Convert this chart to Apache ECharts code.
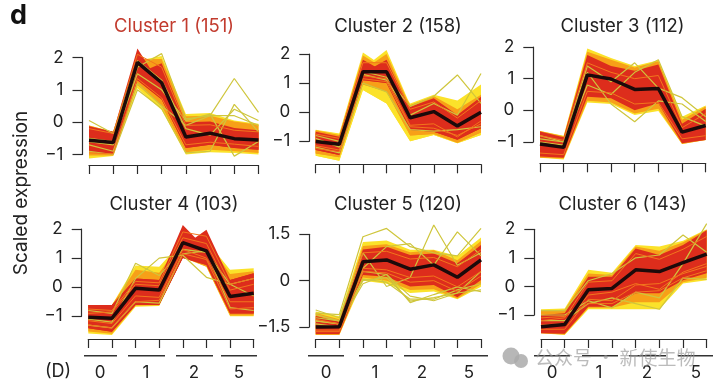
<!DOCTYPE html>
<html>
<head>
<meta charset="utf-8">
<style>
  html,body{margin:0;padding:0;background:#fff}
  #main{width:721px;height:388px}
</style>
<script src="https://cdn.jsdelivr.net/npm/echarts@6/dist/echarts.min.js"></script>
</head>
<body>
<div id="main"></div>
<script>
// sample columns, values
var samples=['0a','0b','1a','1b','2a','2b','5a','5b'];
var dayLabels=['0','1','2','5'];
var clusterNames=['Cluster 1 (151)','Cluster 2 (158)','Cluster 3 (112)','Cluster 4 (103)','Cluster 5 (120)','Cluster 6 (143)'];

var c1Mean=[-.56,-.63,1.85,1.22,-.46,-.34,-.51,-.55];
var c1RedA=[[-.13,-.3,2.28,1.1,0,.02,-.18,-.25],[-.9,-1,1.3,.7,-.8,-.7,-.8,-.85]];
var c1RedB=[[-.3,-.45,1.5,1.82,-.05,-.02,-.2,-.3],[-.9,-1,1.3,.7,-.8,-.7,-.8,-.85]];
var c1Orange=[[-.1,-.3,1.95,1.95,.18,.2,.02,-.08],[-1.03,-1.03,1.15,.5,-.93,-.85,-.9,-.95]];
var c1Yellow=[[-.1,-.3,1.9,2.05,.25,.28,.05,-.05],[-1.12,-1.05,1.05,.38,-1,-.93,-.95,-1]];
var c1Stray=[[.05,-.35,1.9,1.3,-.2,-.4,.4,.05],[-.7,-.9,1.2,.5,-.1,.2,1.35,.3],[-.9,-1,1,.42,-.95,-.9,.55,-.3],[-.5,-.6,1.5,1,.05,.25,-1.05,-.6],[-.6,-.7,1.7,2.12,.1,.2,.2,-.1]];
var c1Warm=[[-.95,-.98,1.35,.75,-.7,-.62,-.68,-.75],[-.2,-.35,2.1,1.7,-.1,-.08,-.25,-.3]];

var c2Mean=[-1.01,-1.1,1.39,1.39,-.19,.02,-.47,0];
var c2RedA=[[-.67,-.84,1.8,1.35,.19,.48,-.1,.53],[-1.3,-1.47,1.1,1,-.61,-.67,-.95,-.55]];
var c2RedB=[[-.72,-.9,1.35,1.8,.1,.4,-.15,.45],[-1.3,-1.47,1.1,1,-.61,-.67,-.95,-.55]];
var c2OrangeA=[[-.62,-.78,1.95,1.45,.25,.55,.1,.6],[-1.42,-1.55,.95,.7,-.8,-.75,-1.05,-.7]];
var c2OrangeB=[[-.65,-.8,1.45,2,.2,.5,.05,.55],[-1.42,-1.55,.95,.7,-.8,-.75,-1.05,-.7]];
var c2YellowA=[[-.6,-.73,2.05,1.5,.3,.6,.4,.95],[-1.5,-1.67,.76,.3,-1,-.78,-1.07,-.78]];
var c2YellowB=[[-.62,-.75,1.5,2.14,.25,.55,.35,.9],[-1.5,-1.67,.76,.3,-1,-.78,-1.07,-.78]];
var c2Stray=[[-.8,-1,1.4,1.2,.2,.55,1.28,.3],[-.9,-1.2,1.3,1.1,-.1,.3,-.1,1.33],[-1.2,-1.4,1,.7,-.6,-.65,-.6,-.5]];
var c2Warm=[[-1.25,-1.35,1.15,1.05,-.5,-.55,-.8,-.4],[-.75,-.9,1.7,1.7,.1,.35,-.2,.4],[-1.15,-1.3,1.25,1.15,-.45,-.4,-.85,-.3]];

var c3Mean=[-1.06,-1.17,1.12,.99,.66,.69,-.69,-.48];
var c3Red=[[-.67,-.85,1.75,1.4,1.25,1.45,-.42,.05],[-1.46,-1.5,.43,.38,0,.22,-1.04,-.94]];
var c3Orange=[[-.65,-.82,1.85,1.6,1.35,1.55,-.3,.12],[-1.5,-1.52,.3,.25,-.1,.05,-1.06,-.94]];
var c3Yellow=[[-.65,-.8,1.95,1.65,1.4,1.58,-.2,.15],[-1.5,-1.55,.25,.2,-.15,-.02,-1.06,-.94]];
var c3Stray=[[-.9,-1,1.4,.9,1.5,.7,.4,-.2],[-.8,-1,1.2,.2,-.36,.3,.2,-.35],[-1,-1.1,.8,.5,1.2,1.6,-.2,-.5]];
var c3Warm=[[-1.35,-1.4,.6,.55,.2,.25,-.9,-.8],[-.8,-.95,1.5,1.2,1,1.1,-.55,-.1]];

var c4Mean=[-1.03,-1.07,-.04,-.1,1.53,1.25,-.32,-.21];
var c4RedA=[[-.61,-.61,.3,.25,2.14,1.3,.25,.48],[-1.41,-1.53,-.61,-.61,1,.76,-.9,-.9]];
var c4RedB=[[-.61,-.61,.3,.25,1.4,1.97,.25,.48],[-1.41,-1.53,-.61,-.61,1,.76,-.9,-.9]];
var c4Orange=[[-.61,-.61,.6,.5,1.6,1.6,.45,.55],[-1.52,-1.6,-.63,-.62,1.02,.7,-.97,-.97]];
var c4Yellow=[[-.61,-.61,.75,.7,1.6,1.6,.6,.65],[-1.59,-1.64,-.67,-.65,1.05,.7,-1,-1]];
var c4Stray=[[-.8,-.9,.82,.4,1.3,1.2,.1,.3],[-1.1,-1.2,.3,1,1.1,.34,.1,-.3],[-1.3,-1.4,-.5,-.55,1.15,1.25,-.7,-.8]];
var c4Warm=[[-1.3,-1.4,-.5,-.45,1.15,.95,-.75,-.7],[-.75,-.8,.2,.15,1.9,1.75,.1,.3],[-1.15,-1.25,-.3,-.35,1.3,1,-.5,-.5],[-.9,-.85,.1,.05,1.7,1.5,-.1,.1]];

var c5Mean=[-1.5,-1.49,.61,.67,.37,.51,.11,.67];
var c5Red=[[-1.14,-1.33,1.01,1.1,.83,.88,.56,1.15],[-1.73,-1.73,.18,.13,-.19,-.14,-.54,.02]];
var c5Orange=[[-1.05,-1.25,1.12,1.18,.92,.98,.66,1.28],[-1.76,-1.76,.1,0,-.3,-.28,-.58,-.12]];
var c5Yellow=[[-1,-1.15,1.25,1.3,1,1,.8,1.4],[-1.76,-1.76,0,-.1,-.4,-.35,-.6,-.2]];
var c5Stray=[[-.95,-1.2,.9,-.19,.1,1.8,.5,.9],[-1.1,-1.3,.4,1.1,1.2,.5,1.58,.8],[-1.3,-1.4,-.1,.2,-.71,-.45,-.2,-.36],[-1.4,-1.5,.3,.2,-.5,-.65,-.4,.3],[-1.2,-1.3,0,.1,-.66,-.55,-.4,-.3],[-1.3,-1.4,.05,-.05,-.6,-.6,-.3,-.1],[-1.05,-1.1,1.42,1.69,1.1,.9,.8,1.69]];
var c5Warm=[[-1.65,-1.65,.3,.25,-.05,0,-.35,.15],[-1.25,-1.4,.9,.95,.7,.75,.45,1],[-1.6,-1.6,.4,.35,.1,.15,-.2,.3]];

var c6Mean=[-1.41,-1.33,-.12,-.07,.58,.52,.83,1.13];
var c6Red=[[-1,-.94,.34,.34,1.33,1.1,1.45,1.97],[-1.64,-1.66,-.71,-.71,-.24,-.24,.22,.46]];
var c6Orange=[[-.85,-.82,.45,.4,1.4,1.25,1.55,1.98],[-1.64,-1.68,-.75,-.75,-.55,-.55,.15,.3]];
var c6Yellow=[[-.8,-.77,.58,.48,1.45,1.4,1.6,2],[-1.64,-1.7,-.8,-.8,-.8,-.8,.1,.22]];
var c6Stray=[[-.85,-.85,.2,.45,1,1.1,1.8,1.2],[-1,-1,-.5,-.75,-.2,-.4,.8,2.2],[-1.2,-1.2,-.6,-.4,-.6,-.8,.3,.25]];
var c6Warm=[[-1.1,-1.05,-.6,-.6,-.2,-.15,.3,.55],[-1.5,-1.5,-.45,-.5,.05,.1,.45,.7],[-1.2,-1.1,.15,.2,1.15,.95,1.3,1.75],[-1.35,-1.3,-.3,-.2,.1,-.1,.5,.8]];

var means=[c1Mean,c2Mean,c3Mean,c4Mean,c5Mean,c6Mean];
var reds=[[c1RedA,c1RedB],[c2RedA,c2RedB],[c3Red],[c4RedA,c4RedB],[c5Red],[c6Red]];
var oranges=[[c1Orange],[c2OrangeA,c2OrangeB],[c3Orange],[c4Orange],[c5Orange],[c6Orange]];
var yellows=[[c1Yellow],[c2YellowA,c2YellowB],[c3Yellow],[c4Yellow],[c5Yellow],[c6Yellow]];
var strays=[c1Stray,c2Stray,c3Stray,c4Stray,c5Stray,c6Stray];
var warms=[c1Warm,c2Warm,c3Warm,c4Warm,c5Warm,c6Warm];

// panel boxes: x0,x1 first/last tick, yt,yb top/bottom y tick, xa x-axis line, ya y-axis line, title centre
var panels=[
  {x0:89,x1:258.5,yt:57.5,yb:154.5,xa:165,ya:82.5,tx:174,ty:26,min:-1,max:2,step:1},
  {x0:315.7,x1:481,yt:54,yb:141.3,xa:164.3,ya:309.3,tx:398,ty:26,min:-1,max:2,step:1},
  {x0:540,x1:705.7,yt:47,yb:142,xa:163.3,ya:533.3,tx:622.5,ty:26,min:-1,max:2,step:1},
  {x0:88.3,x1:253.7,yt:229,yb:316.3,xa:339,ya:81.7,tx:174,ty:204.7,min:-1,max:2,step:1},
  {x0:315.7,x1:481,yt:234.3,yb:327,xa:339,ya:309.3,tx:398,ty:204.7,min:-1.5,max:1.5,step:1.5},
  {x0:541,x1:706.7,yt:229.3,yb:315,xa:339,ya:534.3,tx:622.7,ty:204.7,min:-1,max:2,step:1}
];
var font='Inter';
var ink='#2b2b2b';

function bandSeries(k,band,color){
  return {
    type:'custom',xAxisIndex:k,yAxisIndex:k,data:[0],silent:true,
    renderItem:function(params,api){
      var pts=[];
      band[0].forEach(function(v,i){pts.push(api.coord([i,v]));});
      band[1].slice().reverse().forEach(function(v,i){pts.push(api.coord([7-i,v]));});
      return {type:'polygon',shape:{points:pts},style:{fill:color}};
    }
  };
}
function lineSeries(k,vals,color,w){
  return {type:'line',xAxisIndex:k,yAxisIndex:k,data:vals,showSymbol:false,clip:false,silent:true,
    lineStyle:{color:color,width:w}};
}

var grids=[],xAxes=[],yAxes=[],titles=[],series=[];
panels.forEach(function(p,k){
  grids.push({left:p.x0,width:p.x1-p.x0,top:p.yt,height:p.yb-p.yt});
  xAxes.push({gridIndex:k,type:'category',data:samples,boundaryGap:false,position:'bottom',offset:p.xa-p.yb,
    axisLine:{show:true,onZero:false,lineStyle:{color:ink,width:1.2}},
    axisTick:{show:true,alignWithLabel:true,length:9,lineStyle:{color:ink,width:1.2}},
    axisLabel:{show:false},splitLine:{show:false}});
  yAxes.push({gridIndex:k,type:'value',min:p.min,max:p.max,interval:p.step,offset:p.x0-p.ya,
    axisLine:{show:true,lineStyle:{color:ink,width:1.2}},
    axisTick:{show:true,length:10,lineStyle:{color:ink,width:1.2}},
    axisLabel:{fontFamily:font,fontSize:17,color:'#222',margin:19,
      formatter:function(v){return String(v).replace('-','\u2212');}},
    splitLine:{show:false}});
  titles.push({text:clusterNames[k],left:p.tx,top:p.ty,padding:0,textAlign:'center',textVerticalAlign:'middle',
    textStyle:{fontFamily:font,fontSize:18.5,fontWeight:'normal',color:k==0?'#c23b2e':'#222'}});
  yellows[k].forEach(function(b){series.push(bandSeries(k,b,'#fbe22a'));});
  oranges[k].forEach(function(b){series.push(bandSeries(k,b,'#f7a018'));});
  strays[k].forEach(function(s){series.push(lineSeries(k,s,'#cfc63c',1.2));});
  reds[k].forEach(function(b){series.push(bandSeries(k,b,'#dd2d1c'));});
  warms[k].forEach(function(s){series.push(lineSeries(k,s,'#f2761c',1));});
  series.push(lineSeries(k,means[k],'#1c0a0a',3.5));
});

// day bars under the bottom row
var dayBars=[[[84,117],[128,165],[176,213],[221,257]],[[308,344],[359,393],[404,440],[452,488]],[[534,570],[582,618],[629,666],[678,713]]];
var dayCentres=[[100,146,194,239],[326,375,422,469],[552,599,647,696]];
var graphics=[
  {type:'text',left:10,top:2,style:{text:'d',fontFamily:font,fontSize:27,fontWeight:'bold',fill:'#111'}},
  {type:'text',x:21,y:193,rotation:Math.PI/2,style:{text:'Scaled expression',fontFamily:font,fontSize:19,fill:'#222',textAlign:'center',textVerticalAlign:'middle'}},
  {type:'text',x:58,y:372,style:{text:'(D)',fontFamily:font,fontSize:18,fill:'#222',textAlign:'center',textVerticalAlign:'middle'}}
];
dayBars.forEach(function(row,r){
  row.forEach(function(b,i){
    graphics.push({type:'line',shape:{x1:b[0],y1:355.7,x2:b[1],y2:355.7},style:{stroke:'#333',lineWidth:1.5}});
    graphics.push({type:'text',x:dayCentres[r][i],y:373,style:{text:dayLabels[i],fontFamily:font,fontSize:17,fill:'#222',textAlign:'center',textVerticalAlign:'middle'}});
  });
});
// watermark
graphics.push({type:'circle',shape:{cx:511,cy:356,r:8.5},style:{fill:'#aaa',opacity:.85}});
graphics.push({type:'circle',shape:{cx:521,cy:361,r:7},style:{fill:'#aaa',opacity:.85}});
graphics.push({type:'text',x:535,y:358,style:{text:'公众号 · 新使生物',fontFamily:'Noto Sans CJK SC',fontSize:19,fill:'rgba(150,150,150,.65)',textVerticalAlign:'middle'}});

var chart=echarts.init(document.getElementById('main'));
chart.setOption({animation:false,backgroundColor:'#fff',title:titles,grid:grids,xAxis:xAxes,yAxis:yAxes,series:series,graphic:{elements:graphics}});
</script>
</body>
</html>
